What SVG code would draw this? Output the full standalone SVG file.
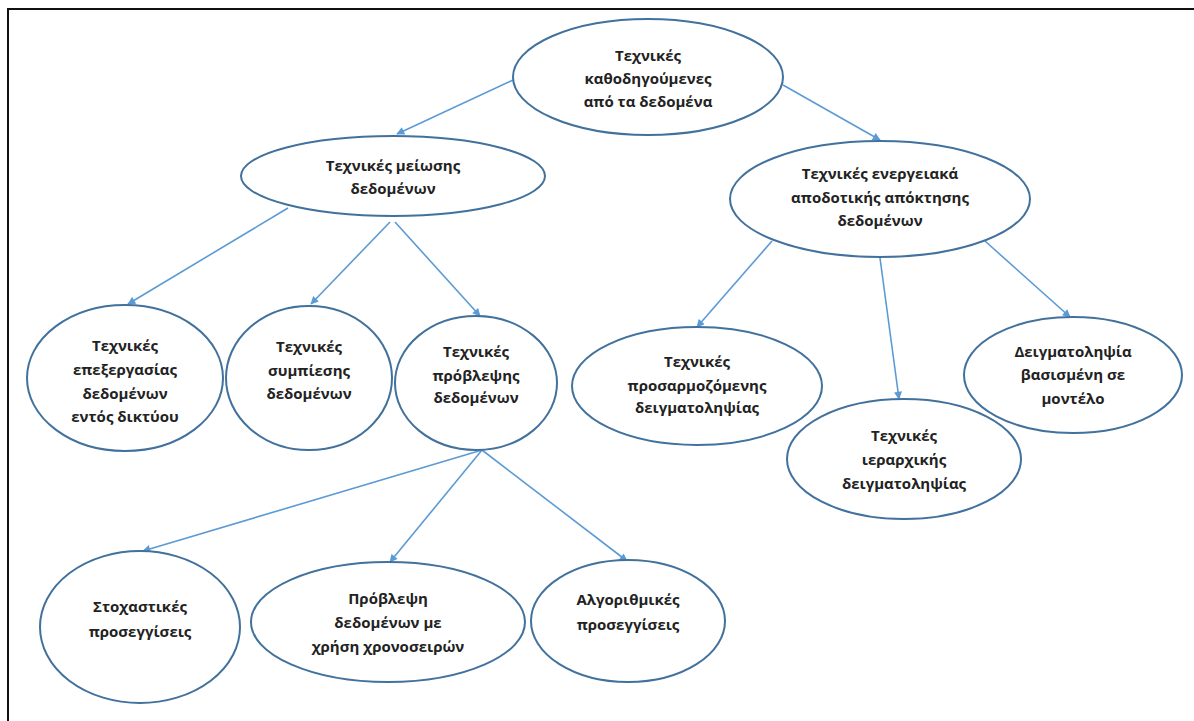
<svg xmlns="http://www.w3.org/2000/svg" width="1194" height="721" viewBox="0 0 1194 721">
<style>
.n{fill:#fff;stroke:#41719C;stroke-width:2}
.t{font-family:"Open Sans","Liberation Sans",sans-serif;font-weight:700;font-size:15px;fill:#222;text-anchor:middle;dominant-baseline:middle}
.c line{stroke:#5B9BD5;stroke-width:1.6;marker-end:url(#ah)}
</style>
<defs>
<marker id="ah" viewBox="0 0 10 10" refX="9" refY="5" markerWidth="9" markerHeight="8" orient="auto" markerUnits="userSpaceOnUse">
<path d="M0,0 L10,5 L0,10 z" fill="#5B9BD5"/>
</marker>
</defs>
<rect x="0" y="0" width="1194" height="721" fill="#fff"/>
<path d="M8,721 V9 H1194" fill="none" stroke="#111" stroke-width="2"/>
<g class="c">
<line x1="513" y1="80" x2="397" y2="134"/>
<line x1="783" y1="85" x2="880" y2="140"/>
<line x1="288" y1="208" x2="128" y2="304"/>
<line x1="390" y1="222" x2="311" y2="304"/>
<line x1="395" y1="222" x2="480" y2="316"/>
<line x1="772" y1="241" x2="697" y2="327"/>
<line x1="880" y1="258" x2="899" y2="399"/>
<line x1="985" y1="241" x2="1070" y2="317"/>
<line x1="482" y1="450" x2="143" y2="551"/>
<line x1="482" y1="450" x2="390" y2="562"/>
<line x1="482" y1="450" x2="627" y2="561"/>
</g>
<g id="root"><ellipse class="n" cx="648" cy="77" rx="135" ry="58"/>
<text class="t" x="648" y="57">Τεχνικές</text><text class="t" x="648" y="80">καθοδηγούμενες</text><text class="t" x="648" y="103">από τα δεδομένα</text></g>
<g id="reduction"><ellipse class="n" cx="393" cy="176" rx="152" ry="40"/>
<text class="t" x="393" y="167">Τεχνικές μείωσης</text><text class="t" x="393" y="190">δεδομένων</text></g>
<g id="energy"><ellipse class="n" cx="880" cy="199" rx="150" ry="58"/>
<text class="t" x="880" y="175">Τεχνικές ενεργειακά</text><text class="t" x="880" y="199">αποδοτικής απόκτησης</text><text class="t" x="880" y="222">δεδομένων</text></g>
<g id="innetwork"><ellipse class="n" cx="125" cy="378" rx="98" ry="73"/>
<text class="t" x="125" y="347">Τεχνικές</text><text class="t" x="125" y="371">επεξεργασίας</text><text class="t" x="125" y="395">δεδομένων</text><text class="t" x="125" y="418">εντός δικτύου</text></g>
<g id="compression"><ellipse class="n" cx="309" cy="378" rx="83" ry="72"/>
<text class="t" x="309" y="348">Τεχνικές</text><text class="t" x="309" y="372">συμπίεσης</text><text class="t" x="309" y="395">δεδομένων</text></g>
<g id="prediction"><ellipse class="n" cx="476" cy="383" rx="81" ry="67"/>
<text class="t" x="476" y="353">Τεχνικές</text><text class="t" x="476" y="377">πρόβλεψης</text><text class="t" x="476" y="399">δεδομένων</text></g>
<g id="adaptive"><ellipse class="n" cx="697" cy="386" rx="125" ry="59"/>
<text class="t" x="697" y="363">Τεχνικές</text><text class="t" x="697" y="387">προσαρμοζόμενης</text><text class="t" x="697" y="409">δειγματοληψίας</text></g>
<g id="hierarchical"><ellipse class="n" cx="904" cy="459" rx="117" ry="60"/>
<text class="t" x="904" y="437">Τεχνικές</text><text class="t" x="904" y="461">ιεραρχικής</text><text class="t" x="904" y="485">δειγματοληψίας</text></g>
<g id="modelbased"><ellipse class="n" cx="1073" cy="375" rx="109" ry="58"/>
<text class="t" x="1073" y="353">Δειγματοληψία</text><text class="t" x="1073" y="376">βασισμένη σε</text><text class="t" x="1073" y="400">μοντέλο</text></g>
<g id="stochastic"><ellipse class="n" cx="140" cy="627" rx="100" ry="76"/>
<text class="t" x="140" y="608">Στοχαστικές</text><text class="t" x="140" y="633">προσεγγίσεις</text></g>
<g id="timeseries"><ellipse class="n" cx="388" cy="622" rx="137" ry="60"/>
<text class="t" x="388" y="600">Πρόβλεψη</text><text class="t" x="388" y="624">δεδομένων με</text><text class="t" x="388" y="648">χρήση χρονοσειρών</text></g>
<g id="algorithmic"><ellipse class="n" cx="628" cy="621" rx="97" ry="61"/>
<text class="t" x="628" y="601">Αλγοριθμικές</text><text class="t" x="628" y="626">προσεγγίσεις</text></g>
</svg>
